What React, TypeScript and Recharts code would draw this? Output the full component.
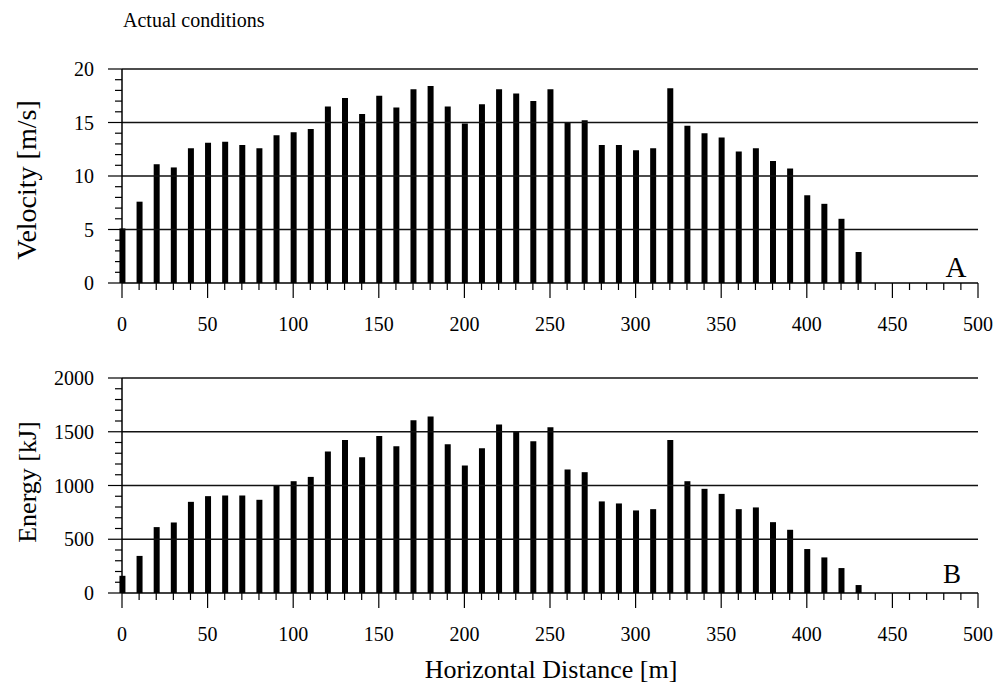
import React from 'react';
import { BarChart, Bar, XAxis, YAxis, ReferenceLine } from 'recharts';

// horizontal distance [m] of each bar
const distance = [0, 10, 20, 30, 40, 50, 60, 70, 80, 90, 100, 110, 120, 130, 140, 150, 160, 170, 180, 190, 200, 210,
  220, 230, 240, 250, 260, 270, 280, 290, 300, 310, 320, 330, 340, 350, 360, 370, 380, 390, 400, 410, 420, 430];

// panel A - velocity [m/s]
const velocity = [5.1, 7.6, 11.1, 10.8, 12.6, 13.1, 13.2, 12.9, 12.6, 13.8, 14.1, 14.4, 16.5, 17.3, 15.8, 17.5, 16.4, 18.1,
  18.4, 16.5, 14.9, 16.7, 18.1, 17.7, 17.0, 18.1, 15.0, 15.2, 12.9, 12.9, 12.4, 12.6, 18.2, 14.7, 14.0, 13.6, 12.3, 12.6,
  11.4, 10.7, 8.2, 7.4, 6.0, 2.9];

// panel B - energy [kJ]
const energy = [160, 345, 613, 656, 848, 901, 907, 907, 867, 1003, 1040, 1080, 1316, 1424, 1263, 1461, 1365, 1607, 1641,
  1384, 1186, 1347, 1567, 1508, 1412, 1542, 1149, 1124, 852, 833, 768, 780, 1424, 1040, 969, 922, 780, 796, 659, 588, 409,
  331, 232, 74];

const xTicks = [0, 10, 20, 30, 40, 50, 60, 70, 80, 90, 100, 110, 120, 130, 140, 150, 160, 170, 180, 190, 200, 210, 220,
  230, 240, 250, 260, 270, 280, 290, 300, 310, 320, 330, 340, 350, 360, 370, 380, 390, 400, 410, 420, 430, 440, 450, 460,
  470, 480, 490, 500];
const velocityTicks = [0, 1, 2, 3, 4, 5, 6, 7, 8, 9, 10, 11, 12, 13, 14, 15, 16, 17, 18, 19, 20];
const energyTicks = [0, 100, 200, 300, 400, 500, 600, 700, 800, 900, 1000, 1100, 1200, 1300, 1400, 1500, 1600, 1700,
  1800, 1900, 2000];
const velocityGrid = [5, 10, 15, 20];
const energyGrid = [500, 1000, 1500, 2000];

const FONT = '"Liberation Serif", "Times New Roman", serif';

const velocityData = distance.map((d, i) => ({ d, v: velocity[i] }));
const energyData = distance.map((d, i) => ({ d, v: energy[i] }));

const XTick = (props) => {
  const { x, y, payload } = props;
  const major = payload.value % 50 === 0;
  return (
    <g>
      <line x1={x} x2={x} y1={y} y2={y + (major ? 15 : 7)} stroke="#000" strokeWidth={1.2} />
      {major && (
        <text x={x} y={y + 48} textAnchor="middle" fontFamily={FONT} fontSize={20} fill="#000">
          {payload.value}
        </text>
      )}
    </g>
  );
};

const makeYTick = (step) => (props) => {
  const { x, y, payload } = props;
  const major = payload.value % step === 0;
  return (
    <g>
      <line x1={x} x2={x - (major ? 14 : 7)} y1={y} y2={y} stroke="#000" strokeWidth={1.2} />
      {major && (
        <text x={x - 28} y={y} dy="0.35em" textAnchor="end" fontFamily={FONT} fontSize={20} fill="#000">
          {payload.value}
        </text>
      )}
    </g>
  );
};

const VelocityTick = makeYTick(5);
const EnergyTick = makeYTick(500);

const TickWrap = (props) => {
  const { render: R, ...rest } = props;
  return <R {...rest} />;
};

const Panel = ({ data, domain, ticks, grid, tick, top, bottom }) => (
  <BarChart width={996} height={360} data={data} margin={{ top, right: 18, left: 0, bottom }}>
    {grid.map((g) => (
      <ReferenceLine key={g} y={g} stroke="#111" strokeWidth={1.5} />
    ))}
    <XAxis
      dataKey="d"
      type="number"
      domain={[0, 500]}
      ticks={xTicks}
      interval={0}
      height={60}
      tickSize={0}
      tickMargin={0}
      tickLine={false}
      axisLine={{ stroke: '#000', strokeWidth: 1.5 }}
      tick={<TickWrap render={XTick} />}
    />
    <YAxis
      type="number"
      domain={domain}
      ticks={ticks}
      interval={0}
      width={122}
      tickSize={0}
      tickMargin={0}
      tickLine={false}
      axisLine={{ stroke: '#000', strokeWidth: 1.5 }}
      tick={<TickWrap render={tick} />}
    />
    <Bar dataKey="v" fill="#000" barSize={6} isAnimationActive={false} />
  </BarChart>
);

export default function App() {
  return (
    <div style={{ position: 'absolute', left: 0, top: 0, width: 996, height: 687, background: '#fff' }}>
      <div style={{ position: 'absolute', left: 0, top: 0 }}>
        <Panel data={velocityData} domain={[0, 20]} ticks={velocityTicks} grid={velocityGrid} tick={VelocityTick} top={69} bottom={17} />
      </div>
      <div style={{ position: 'absolute', left: 0, top: 300 }}>
        <Panel data={energyData} domain={[0, 2000]} ticks={energyTicks} grid={energyGrid} tick={EnergyTick} top={78} bottom={7} />
      </div>
      <svg width={996} height={687} style={{ position: 'absolute', left: 0, top: 0, pointerEvents: 'none' }}>
        <text x={123} y={27} fontFamily={FONT} fontSize={20} fill="#000">Actual conditions</text>
        <text x={26} y={180} transform="rotate(-90 26 180)" textAnchor="middle" dy="0.35em" fontFamily={FONT} fontSize={28} fill="#000">
          Velocity [m/s]
        </text>
        <text x={27} y={482} transform="rotate(-90 27 482)" textAnchor="middle" dy="0.35em" fontFamily={FONT} fontSize={26} fill="#000">
          Energy [kJ]
        </text>
        <text x={956} y={277} textAnchor="middle" fontFamily={FONT} fontSize={29} fill="#000">A</text>
        <text x={952} y={583} textAnchor="middle" fontFamily={FONT} fontSize={27} fill="#000">B</text>
        <text x={551} y={678} textAnchor="middle" fontFamily={FONT} fontSize={26} fill="#000">Horizontal Distance [m]</text>
      </svg>
    </div>
  );
}
